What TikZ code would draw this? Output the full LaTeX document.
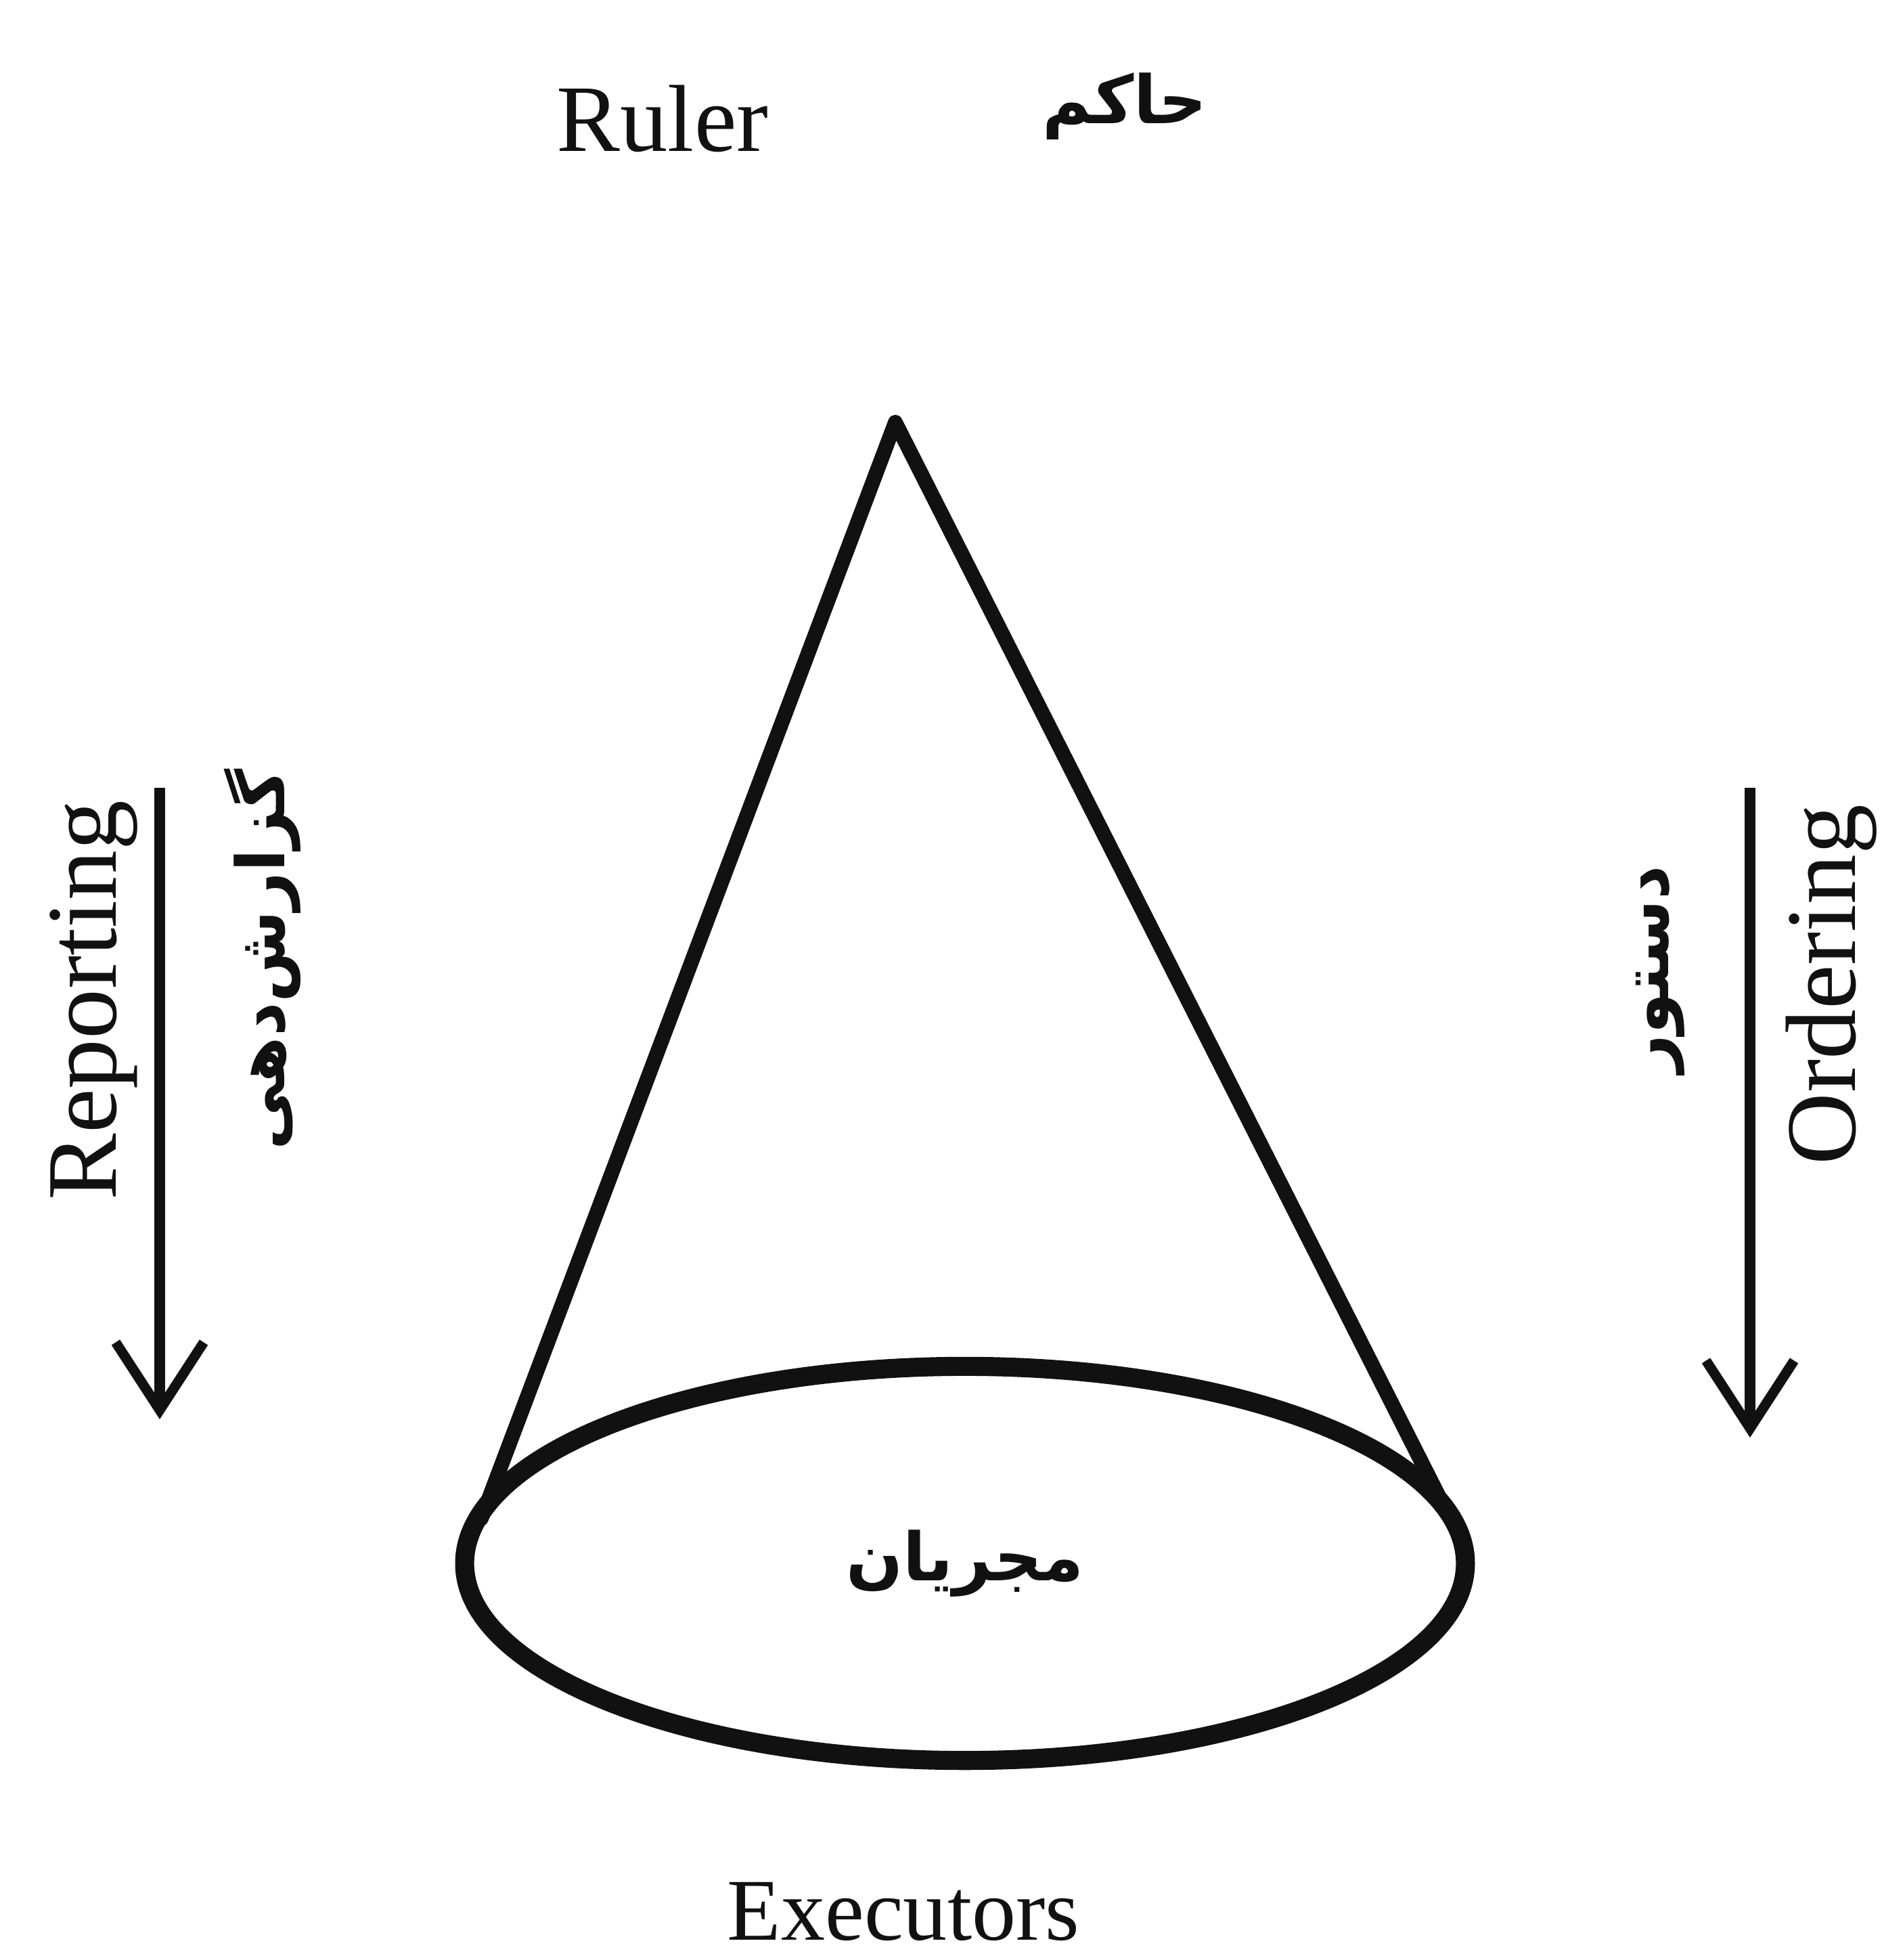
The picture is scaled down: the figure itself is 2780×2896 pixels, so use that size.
\documentclass[tikz,border=0pt]{standalone}
\usepackage{fontspec}
\setmainfont{Liberation Serif}
\newfontfamily\farsi[Script=Arabic]{DejaVu Sans}
\TeXXeTstate=1
\usetikzlibrary{arrows.meta,positioning,shapes.geometric}
\definecolor{ink}{HTML}{111111}
\tikzset{
  latin/.style={font=\fontsize{40}{44}\selectfont, text=ink, inner sep=0pt},
  fa/.style={font=\farsi\bfseries\fontsize{28}{32}\selectfont, text=ink, inner sep=0pt},
  flow/.style={-{Straight Barb[length=1.0cm,width=1.3cm,line width=4.2pt]}, line width=4.8pt, draw=ink},
  coneline/.style={line width=6.2pt, draw=ink, line cap=round, line join=round},
  baseell/.style={ellipse, draw=ink, line width=8pt, minimum width=14.78cm,
                  minimum height=5.82cm, inner sep=0pt}
}

\begin{document}
\begin{tikzpicture}[x=0.01cm,y=-0.01cm]
  \useasboundingbox (0,0) rectangle (2780,2896);

  % top
  \node[latin] (ruler) at (979,175) {Ruler};
  \node[fa] (hakem) at (1662,157) {\beginR حاکم\endR};

  % cone
  \coordinate (apex) at (1323,624);
  \coordinate (tl) at (711,2244);
  \coordinate (tr) at (2143,2244);
  \draw[coneline] (tl) -- (apex) -- (tr);
  \node[baseell, fa] (base) at (1426,2310) {\beginR مجریان\endR};
  \node[latin, font=\fontsize{37}{40}\selectfont, anchor=base] (exec) at (1335,2866) {Executors};

  % reporting arrow
  \coordinate (repTop) at (236,1164);
  \coordinate (repEnd) at (236,2097);
  \draw[flow] (repTop) -- (repEnd);
  \node[latin, font=\fontsize{42}{46}\selectfont, rotate=90] (reporting) at (139,1478) {Reporting};
  \node[fa, rotate=90] (gozaresh) at (388,1418) {\beginR گزارش‌دهی\endR};

  % ordering arrow
  \coordinate (ordTop) at (2586,1164);
  \coordinate (ordEnd) at (2586,2124);
  \draw[flow] (ordTop) -- (ordEnd);
  \node[fa, rotate=90] (dastur) at (2453,1432) {\beginR دستور\endR};
  \node[latin, font=\fontsize{42}{46}\selectfont, rotate=90] (ordering) at (2706,1455) {Ordering};
\end{tikzpicture}
\end{document}
